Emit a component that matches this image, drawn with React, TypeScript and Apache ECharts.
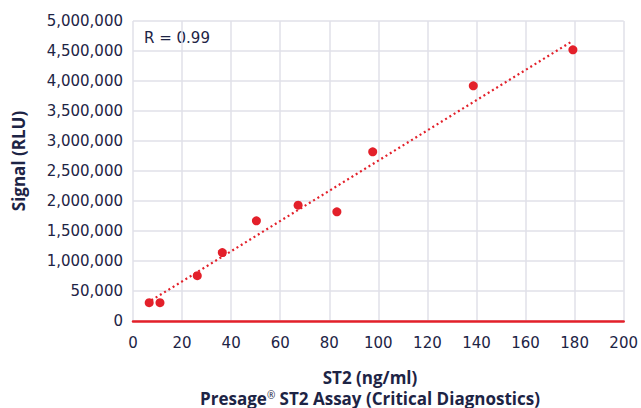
import React, { useEffect, useRef } from "react";
import * as echarts from "echarts";

const concentration = [6.6, 11, 26.2, 36.4, 50.3, 67.3, 83.1, 97.7, 138.7, 179.3];
const signal = [305000, 305000, 755000, 1140000, 1670000, 1930000, 1820000, 2820000, 3920000, 4520000];
const trendX = [7.5, 178.5];
const trendY = [345000, 4650000];
const yTickLabels = ["0", "50,000", "1,000,000", "1,500,000", "2,000,000", "2,500,000", "3,000,000", "3,500,000", "4,000,000", "4,500,000", "5,000,000"];
const xTickLabels = ["0", "20", "40", "60", "80", "100", "120", "140", "160", "180", "200"];

const TEXT = "#1d2445";
const RED = "#e3202a";
const FONT = "'DejaVu Sans', sans-serif";
const TFONT = "'Open Sans', sans-serif";

export default function App() {
  const ref = useRef<HTMLDivElement>(null);
  useEffect(() => {
    if (!ref.current) return;
    const chart = echarts.init(ref.current, null, { renderer: "svg" });
    chart.setOption({
      animation: false,
      textStyle: { fontFamily: FONT },
      grid: { left: 133, right: 12, top: 21, bottom: 87, containLabel: false },
      xAxis: {
        type: "value",
        min: 0,
        max: 200,
        interval: 20,
        axisLine: { show: true, onZero: false, lineStyle: { color: RED, width: 2.5 } },
        axisTick: { show: false },
        axisLabel: {
          color: TEXT,
          fontSize: 15,
          margin: 14,
          fontFamily: FONT,
          formatter: (v: number) => xTickLabels[Math.round(v / 20)] ?? "",
        },
        splitLine: { show: true, lineStyle: { color: "#e0e0e8", width: 1.5 } },
      },
      yAxis: {
        type: "value",
        min: 0,
        max: 5000000,
        interval: 500000,
        axisLine: { show: false },
        axisTick: { show: false },
        axisLabel: {
          color: TEXT,
          fontSize: 15,
          margin: 10,
          fontFamily: FONT,
          formatter: (v: number) => yTickLabels[Math.round(v / 500000)] ?? "",
        },
        splitLine: { show: true, lineStyle: { color: "#e0e0e8", width: 1.5 } },
      },
      graphic: [
        {
          type: "text",
          left: 144,
          top: 30,
          style: { text: "R = 0.99", fill: TEXT, fontSize: 15, fontFamily: FONT },
        },
        {
          type: "text",
          x: 18,
          y: 161,
          rotation: Math.PI / 2,
          style: {
            text: "Signal (RLU)",
            fill: TEXT,
            fontSize: 17,
            fontWeight: "bold",
            fontFamily: TFONT,
            align: "center",
            verticalAlign: "middle",
          },
        },
        {
          type: "text",
          x: 370,
          y: 377,
          style: {
            text: "ST2 (ng/ml)",
            fill: TEXT,
            fontSize: 17,
            fontWeight: "bold",
            fontFamily: TFONT,
            align: "center",
            verticalAlign: "middle",
            lineHeight: 17,
          },
        },
        {
          type: "text",
          x: 370,
          y: 398,
          style: {
            text: "{b|Presage}{s|®}{b| ST2 Assay (Critical Diagnostics)}",
            fill: TEXT,
            fontSize: 17,
            fontWeight: "bold",
            fontFamily: TFONT,
            align: "center",
            verticalAlign: "middle",
            rich: {
              b: { fontSize: 17, fontWeight: "bold", fill: TEXT, fontFamily: TFONT, lineHeight: 17 },
              s: { fontSize: 10, fontWeight: "normal", fill: TEXT, fontFamily: TFONT, lineHeight: 17, verticalAlign: "top" },
            },
          },
        },
      ],
      series: [
        {
          type: "line",
          data: trendX.map((x, i) => [x, trendY[i]]),
          showSymbol: false,
          lineStyle: { color: RED, width: 2.2, type: [2, 3] },
          z: 2,
        },
        {
          type: "scatter",
          data: concentration.map((x, i) => [x, signal[i]]),
          symbol: "circle",
          symbolSize: 9,
          itemStyle: { color: RED, opacity: 1 },
          z: 3,
        },
      ],
    });
    return () => chart.dispose();
  }, []);
  return <div ref={ref} style={{ width: 641, height: 408, position: "absolute", left: 0, top: 0 }} />;
}
